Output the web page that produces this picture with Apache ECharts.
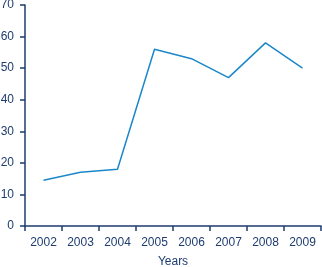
<!DOCTYPE html>
<html><head><meta charset="utf-8">
<script src="https://cdn.jsdelivr.net/npm/echarts@6/dist/echarts.min.js"></script>
<style>html,body{margin:0;padding:0;background:#fff}#c{width:322px;height:267px}</style>
</head><body><div id="c"></div>
<script>
var categories = ['2002','2003','2004','2005','2006','2007','2008','2009'];
var values = [14.5, 17, 18, 56, 53, 47, 58, 50];
var yTicks = [0,10,20,30,40,50,60,70];
var navy = '#1d3c70';
var chart = echarts.init(document.getElementById('c'), null, {renderer:'canvas'});
chart.setOption({
  animation:false,
  grid:{left:25,right:1,top:5,bottom:41,containLabel:false,outerBoundsMode:'none'},
  xAxis:{type:'category',data:categories,boundaryGap:true,
    name:'Years',nameLocation:'middle',nameGap:30,
    nameTextStyle:{color:navy,fontSize:12,fontFamily:'Liberation Sans'},
    axisLine:{lineStyle:{color:navy,width:1.5}},
    axisTick:{show:true,length:5,lineStyle:{color:navy,width:1.5}},
    axisLabel:{color:navy,fontSize:12,fontFamily:'Liberation Sans',margin:11}},
  yAxis:{type:'value',min:yTicks[0],max:yTicks[yTicks.length-1],interval:10,
    axisLine:{show:true,lineStyle:{color:navy,width:1.5}},
    axisTick:{show:true,length:5,lineStyle:{color:navy,width:1.5}},
    splitLine:{show:false},
    axisLabel:{color:navy,fontSize:12,fontFamily:'Liberation Sans',margin:11}},
  series:[{type:'line',data:values,symbol:'none',lineStyle:{color:'#1a87c9',width:1.5}}]
});
</script></body></html>
